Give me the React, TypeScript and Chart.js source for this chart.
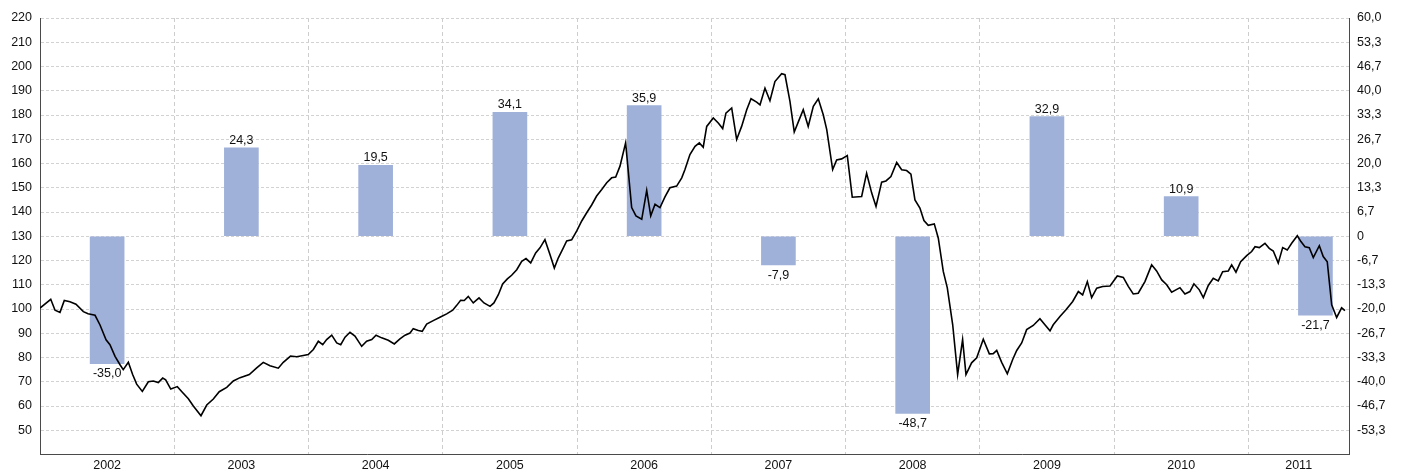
import React, { useEffect, useRef } from "react";
import { Chart, registerables } from "chart.js";

Chart.register(...registerables);

// ---- Data ----
const yearLabels = ["2002", "2003", "2004", "2005", "2006", "2007", "2008", "2009", "2010", "2011"];
const barPositions = [2002.5, 2003.5, 2004.5, 2005.5, 2006.5, 2007.5, 2008.5, 2009.5, 2010.5, 2011.5];
const barValues = [-35.0, 24.3, 19.5, 34.1, 35.9, -7.9, -48.7, 32.9, 10.9, -21.7];

const lineDates = [
  2002.0, 2002.08, 2002.112, 2002.149, 2002.181, 2002.223, 2002.268, 2002.323, 2002.358, 2002.41,
  2002.447, 2002.492, 2002.521, 2002.559, 2002.596, 2002.62, 2002.658, 2002.69, 2002.72, 2002.762,
  2002.807, 2002.844, 2002.881, 2002.914, 2002.936, 2002.974, 2003.023, 2003.055, 2003.105, 2003.142,
  2003.199, 2003.242, 2003.291, 2003.335, 2003.391, 2003.44, 2003.49, 2003.559, 2003.614, 2003.663,
  2003.713, 2003.775, 2003.812, 2003.866, 2003.912, 2003.961, 2003.998, 2004.036, 2004.073, 2004.106,
  2004.135, 2004.173, 2004.21, 2004.24, 2004.272, 2004.309, 2004.346, 2004.396, 2004.433, 2004.471,
  2004.503, 2004.545, 2004.594, 2004.639, 2004.681, 2004.719, 2004.756, 2004.78, 2004.818, 2004.847,
  2004.88, 2004.929, 2004.979, 2005.029, 2005.074, 2005.104, 2005.133, 2005.16, 2005.19, 2005.227,
  2005.27, 2005.307, 2005.352, 2005.381, 2005.414, 2005.446, 2005.481, 2005.513, 2005.551, 2005.588,
  2005.62, 2005.655, 2005.692, 2005.724, 2005.761, 2005.799, 2005.831, 2005.86, 2005.898, 2005.923,
  2005.96, 2005.998, 2006.035, 2006.072, 2006.109, 2006.146, 2006.184, 2006.221, 2006.258, 2006.288,
  2006.32, 2006.362, 2006.407, 2006.439, 2006.482, 2006.519, 2006.549, 2006.581, 2006.618, 2006.655,
  2006.692, 2006.742, 2006.78, 2006.804, 2006.841, 2006.879, 2006.911, 2006.94, 2006.966, 2007.015,
  2007.052, 2007.085, 2007.109, 2007.152, 2007.189, 2007.226, 2007.264, 2007.296, 2007.338, 2007.363,
  2007.4, 2007.437, 2007.474, 2007.524, 2007.549, 2007.586, 2007.618, 2007.655, 2007.685, 2007.722,
  2007.76, 2007.797, 2007.834, 2007.86, 2007.904, 2007.934, 2007.971, 2008.013, 2008.05, 2008.12,
  2008.157, 2008.195, 2008.227, 2008.269, 2008.301, 2008.338, 2008.381, 2008.418, 2008.455, 2008.487,
  2008.517, 2008.554, 2008.584, 2008.616, 2008.661, 2008.691, 2008.728, 2008.758, 2008.798, 2008.835,
  2008.872, 2008.897, 2008.939, 2008.977, 2009.026, 2009.071, 2009.1, 2009.126, 2009.163, 2009.205,
  2009.245, 2009.275, 2009.312, 2009.349, 2009.398, 2009.448, 2009.485, 2009.523, 2009.547, 2009.597,
  2009.642, 2009.692, 2009.734, 2009.766, 2009.801, 2009.833, 2009.871, 2009.915, 2009.97, 2010.024,
  2010.069, 2010.106, 2010.143, 2010.18, 2010.23, 2010.28, 2010.317, 2010.355, 2010.392, 2010.429,
  2010.491, 2010.528, 2010.565, 2010.595, 2010.635, 2010.665, 2010.702, 2010.739, 2010.776, 2010.809,
  2010.851, 2010.876, 2010.908, 2010.943, 2010.988, 2011.025, 2011.05, 2011.082, 2011.124, 2011.156,
  2011.186, 2011.223, 2011.256, 2011.29, 2011.323, 2011.365, 2011.392, 2011.422, 2011.454, 2011.484,
  2011.529, 2011.558, 2011.588, 2011.621, 2011.658, 2011.695, 2011.72,
];

const lineValues = [
  100.4, 104.0, 99.5, 98.6, 103.5, 103.0, 102.0, 98.9, 98.0, 97.4,
  93.4, 87.3, 85.3, 80.5, 77.0, 75.0, 78.0, 73.0, 69.0, 66.0,
  70.0, 70.3, 69.7, 71.5, 70.8, 67.0, 68.0, 66.0, 63.0, 60.0,
  56.0, 60.4, 62.9, 65.9, 67.7, 70.3, 71.7, 73.0, 75.7, 78.0,
  76.6, 75.6, 78.0, 80.6, 80.3, 80.8, 81.2, 83.3, 86.7, 85.3,
  87.4, 89.2, 86.0, 85.3, 88.4, 90.4, 88.8, 84.6, 86.7, 87.4,
  89.2, 88.1, 87.1, 85.6, 87.7, 89.2, 90.1, 91.9, 91.1, 90.8,
  93.8, 95.2, 96.6, 98.0, 99.5, 101.5, 103.6, 103.5, 105.2, 102.5,
  104.6, 102.5, 101.1, 102.5, 105.9, 110.3, 112.4, 113.9, 116.2, 119.7,
  120.8, 119.0, 123.1, 125.2, 128.6, 122.4, 116.9, 121.0, 125.2, 128.1,
  128.5, 132.2, 136.3, 139.7, 142.9, 146.6, 149.3, 152.1, 154.1, 154.4,
  158.9, 168.5, 141.8, 138.4, 137.0, 148.9, 138.4, 143.2, 141.8, 146.2,
  150.0, 150.7, 154.1, 157.5, 163.7, 167.1, 168.5, 166.7, 175.3, 178.8,
  176.7, 174.4, 180.8, 182.9, 169.9, 175.3, 182.2, 186.7, 185.3, 184.2,
  191.1, 185.9, 193.8, 197.0, 196.6, 185.6, 173.0, 178.1, 182.2, 175.3,
  183.6, 186.7, 180.1, 174.0, 157.5, 161.5, 161.9, 163.3, 146.1, 146.4,
  156.0, 147.8, 142.3, 152.3, 152.8, 154.6, 160.4, 157.4, 157.1, 155.6,
  145.0, 141.6, 136.5, 134.5, 135.1, 129.2, 115.5, 108.7, 93.6, 73.0,
  87.4, 73.0, 77.8, 79.9, 87.5, 81.5, 81.6, 82.9, 78.0, 73.3,
  79.2, 82.9, 86.0, 91.5, 93.2, 96.0, 93.5, 91.0, 93.5, 96.9,
  99.7, 103.1, 107.2, 105.8, 111.3, 104.7, 108.6, 109.3, 109.5, 113.6,
  113.0, 109.3, 106.2, 106.5, 111.3, 118.2, 115.7, 112.0, 110.0, 106.9,
  108.8, 106.2, 107.2, 110.4, 107.9, 104.7, 109.7, 112.7, 111.6, 115.4,
  115.7, 118.2, 115.2, 119.5, 122.0, 123.7, 125.7, 125.3, 127.1, 125.0,
  123.9, 118.9, 125.3, 124.3, 127.1, 130.2, 127.8, 125.7, 125.3, 121.2,
  126.1, 121.6, 119.5, 101.7, 96.5, 100.5, 99.3,
];

const leftTicks = [40, 50, 60, 70, 80, 90, 100, 110, 120, 130, 140, 150, 160, 170, 180, 190, 200, 210, 220];
const rightTicks = [-9, -8, -7, -6, -5, -4, -3, -2, -1, 0, 1, 2, 3, 4, 5, 6, 7, 8, 9].map((i) => (i * 20) / 3);
const yearBoundaries = [2003, 2004, 2005, 2006, 2007, 2008, 2009, 2010, 2011];
const yearLabelPositions = [2002.5, 2003.5, 2004.5, 2005.5, 2006.5, 2007.5, 2008.5, 2009.5, 2010.5, 2011.375];

const FONT = "'Liberation Sans', Arial, Helvetica, sans-serif";
const TEXT = "#111111";
const fmt = (v: number) => v.toFixed(1).replace(".", ",");

const barLabelPlugin = {
  id: "barLabels",
  afterDatasetsDraw(chart: any) {
    const meta = chart.getDatasetMeta(1);
    const ctx = chart.ctx;
    ctx.save();
    ctx.font = `12.5px ${FONT}`;
    ctx.fillStyle = TEXT;
    ctx.textAlign = "center";
    meta.data.forEach((el: any, i: number) => {
      const v = barValues[i];
      if (v >= 0) {
        ctx.textBaseline = "alphabetic";
        ctx.fillText(fmt(v), el.x, el.y - 4);
      } else {
        ctx.textBaseline = "top";
        ctx.fillText(fmt(v), el.x, el.y + 4);
      }
    });
    ctx.restore();
  },
};

export default function App() {
  const ref = useRef<HTMLCanvasElement | null>(null);

  useEffect(() => {
    document.body.style.margin = "0";
    const canvas = ref.current!;
    const chart = new Chart(canvas, {
      type: "bar",
      data: {
        datasets: [
          {
            type: "line",
            data: lineDates.map((d, i) => ({ x: d, y: lineValues[i] })),
            yAxisID: "y",
            xAxisID: "x",
            borderColor: "#000000",
            borderWidth: 1.6,
            pointRadius: 0,
            tension: 0,
            order: 0,
          } as any,
          {
            type: "bar",
            data: barPositions.map((p, i) => ({ x: p, y: barValues[i] })),
            yAxisID: "y1",
            xAxisID: "x",
            backgroundColor: "#9fb0d9",
            borderWidth: 0,
            barThickness: 34,
            order: 1,
          } as any,
        ],
      },
      options: {
        animation: false,
        responsive: false,
        maintainAspectRatio: false,
        devicePixelRatio: 1,
        layout: { padding: { top: 18, left: 0, right: 0, bottom: 0 } },
        plugins: { legend: { display: false }, tooltip: { enabled: false } },
        scales: {
          x: {
            type: "linear",
            min: 2002,
            max: 2011.75,
            offset: false,
            afterBuildTicks: (scale: any) => {
              const all = [...yearBoundaries, ...yearLabelPositions].sort((a, b) => a - b);
              scale.ticks = all.map((v) => ({ value: v }));
            },
            afterFit: (scale: any) => {
              scale.height = 16.5;
            },
            ticks: {
              autoSkip: false,
              maxRotation: 0,
              padding: 4,
              color: TEXT,
              font: { family: FONT, size: 12.5 },
              callback: (value: any) => {
                const idx = yearLabelPositions.indexOf(value);
                return idx >= 0 ? yearLabels[idx] : "";
              },
            },
            grid: {
              offset: false,
              drawTicks: false,
              lineWidth: 1,
              color: (ctx: any) =>
                ctx.tick && yearBoundaries.indexOf(ctx.tick.value) >= 0 ? "#cdcdcd" : "rgba(0,0,0,0)",
            },
            border: { display: true, color: "#4a4a4a", width: 1, dash: [4, 3] },
          },
          y: {
            type: "linear",
            position: "left",
            min: 40,
            max: 220,
            afterBuildTicks: (scale: any) => {
              scale.ticks = leftTicks.map((v) => ({ value: v }));
            },
            afterFit: (scale: any) => {
              scale.width = 40;
            },
            ticks: {
              padding: 8,
              color: TEXT,
              font: { family: FONT, size: 12.5 },
              callback: (value: any) => (value === 40 ? "" : String(value)),
            },
            grid: { drawTicks: false, color: "#d2d2d2", lineWidth: 1 },
            border: { display: true, color: "#4a4a4a", width: 1, dash: [3, 2] },
          },
          y1: {
            type: "linear",
            position: "right",
            min: -60,
            max: 60,
            afterBuildTicks: (scale: any) => {
              scale.ticks = rightTicks.map((v) => ({ value: v }));
            },
            afterFit: (scale: any) => {
              scale.width = 55;
            },
            ticks: {
              padding: 8,
              color: TEXT,
              font: { family: FONT, size: 12.5 },
              callback: (value: any) => {
                if (Math.abs(value + 60) < 1e-6) return "";
                if (Math.abs(value) < 1e-6) return "0";
                return fmt(value);
              },
            },
            grid: { display: true, drawOnChartArea: false, drawTicks: false },
            border: { display: true, color: "#4a4a4a", width: 1 },
          },
        },
      } as any,
      plugins: [barLabelPlugin],
    });
    return () => chart.destroy();
  }, []);

  return (
    <div style={{ width: 1404, height: 471 }}>
      <canvas ref={ref} width={1404} height={471} style={{ display: "block" }} />
    </div>
  );
}
